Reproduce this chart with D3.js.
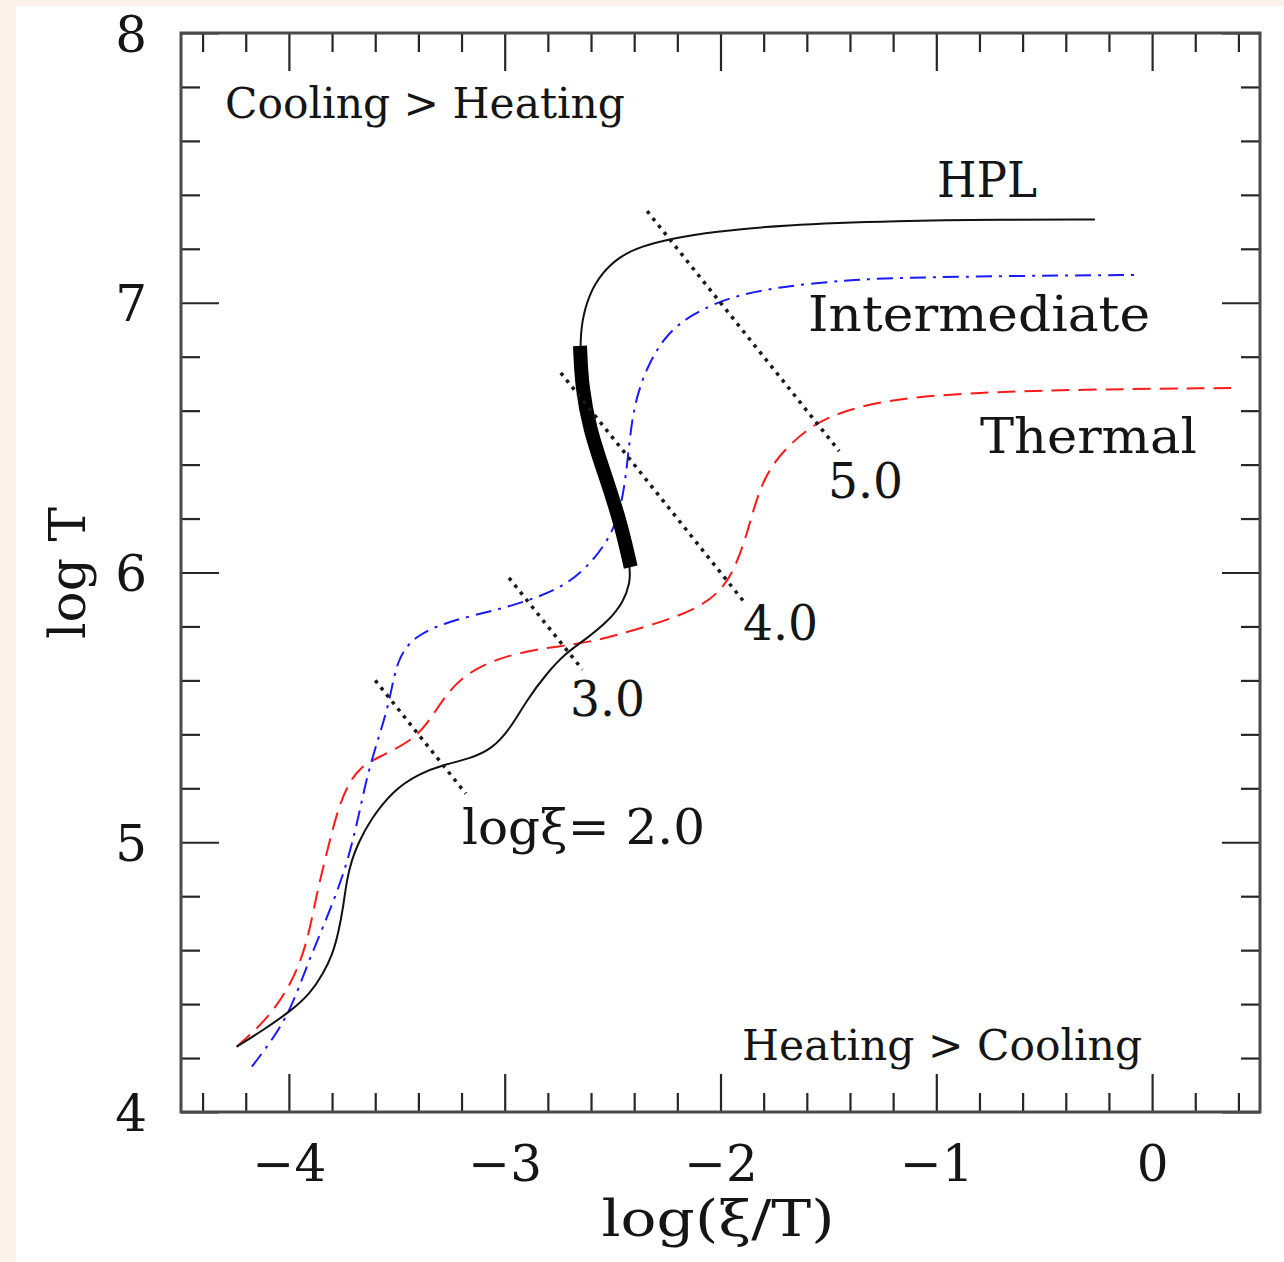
<!DOCTYPE html>
<html>
<head>
<meta charset="utf-8">
<script src="https://cdn.jsdelivr.net/npm/d3@7"></script>
<style>
  html, body { margin: 0; padding: 0; background: #fbf2e9; }
  svg { display: block; }
  text { font-family: "DejaVu Serif", "Liberation Serif", serif; fill: #151515; }
</style>
</head>
<body>
<svg id="chart" width="1284" height="1262"></svg>
<script>
// Stability curves: log T versus log(xi/T) for three ionizing continua
const hplCurve = [
  [-4.242, 4.242], [-4.119, 4.304], [-3.995, 4.372], [-3.900, 4.440], [-3.841, 4.514],
  [-3.800, 4.580], [-3.771, 4.662], [-3.748, 4.761], [-3.732, 4.860], [-3.709, 4.934],
  [-3.679, 4.996], [-3.624, 5.082], [-3.516, 5.194], [-3.392, 5.256], [-3.285, 5.287],
  [-3.161, 5.310], [-3.060, 5.345], [-2.975, 5.420], [-2.898, 5.527], [-2.805, 5.626],
  [-2.720, 5.700], [-2.620, 5.755], [-2.520, 5.820], [-2.450, 5.890], [-2.420, 5.960],
  [-2.416, 6.020], [-2.466, 6.195], [-2.543, 6.380], [-2.605, 6.528], [-2.643, 6.689],
  [-2.651, 6.840], [-2.643, 6.930], [-2.610, 7.030], [-2.550, 7.110], [-2.470, 7.170],
  [-2.373, 7.208], [-2.219, 7.240], [-2.033, 7.263], [-1.724, 7.288], [-1.168, 7.304],
  [-0.700, 7.308], [-0.265, 7.309]
];
// Thermally unstable branch of the HPL curve (range in log T)
const hplUnstable = [6.02, 6.84];

const intermediateCurve = [
  [-4.172, 4.168], [-4.088, 4.255], [-3.995, 4.372], [-3.918, 4.539], [-3.841, 4.687],
  [-3.748, 4.873], [-3.686, 5.058], [-3.640, 5.243], [-3.578, 5.404], [-3.532, 5.527],
  [-3.500, 5.676], [-3.424, 5.762], [-3.269, 5.818], [-3.037, 5.861], [-2.883, 5.898],
  [-2.728, 5.947], [-2.605, 6.028], [-2.497, 6.145], [-2.450, 6.281], [-2.427, 6.442],
  [-2.404, 6.615], [-2.342, 6.763], [-2.249, 6.887], [-2.126, 6.961], [-1.956, 7.022],
  [-1.724, 7.060], [-1.415, 7.084], [-1.168, 7.093], [-0.600, 7.100], [-0.056, 7.103]
];

const thermalCurve = [
  [-4.242, 4.242], [-4.103, 4.341], [-3.995, 4.465], [-3.918, 4.613], [-3.871, 4.811],
  [-3.825, 4.959], [-3.779, 5.107], [-3.732, 5.206], [-3.671, 5.280], [-3.578, 5.317],
  [-3.424, 5.379], [-3.346, 5.453], [-3.269, 5.552], [-3.176, 5.626], [-3.037, 5.681],
  [-2.867, 5.713], [-2.713, 5.731], [-2.589, 5.744], [-2.342, 5.799], [-2.110, 5.861],
  [-1.971, 5.947], [-1.894, 6.096], [-1.848, 6.232], [-1.802, 6.343], [-1.724, 6.442],
  [-1.570, 6.553], [-1.415, 6.602], [-1.168, 6.652], [-0.543, 6.677], [0.366, 6.684]
];

// Lines of constant log(xi): log T = log(xi) - log(xi/T)
const xiLevels = [2, 3, 4, 5];
const xiSpans = [[-3.60, -3.18], [-2.98, -2.64], [-2.74, -1.89], [-2.34, -1.45]];
const xiLabels = ["log\u03BE= 2.0", "3.0", "4.0", "5.0"];
const xiLabelAnchors = [[-3.198, 4.994], [-2.697, 5.468], [-1.896, 5.750], [-1.502, 6.276]];

// Curve names and region notes, anchored in data units (baseline start)
const curveNames = ["HPL", "Intermediate", "Thermal"];
const curveNameAnchors = [[-0.997, 7.392], [-1.594, 6.895], [-0.798, 6.443]];
const regionNotes = ["Cooling > Heating", "Heating > Cooling"];
const regionAnchors = [[-4.296, 7.685], [-1.900, 4.193]];

const xTickValues = [-4, -3, -2, -1, 0];
const yTickValues = [4, 5, 6, 7, 8];
const xTitle = "log(\u03BE/T)";
const yTitle = "log T";

// ---- layout ----
const svg = d3.select("#chart");
const W = 1284, H = 1262;
const plot = { left: 181, right: 1260, top: 33, bottom: 1112 };

svg.append("rect").attr("x", 16).attr("y", 6).attr("width", W - 16).attr("height", H - 6).attr("fill", "#ffffff");

const x = d3.scaleLinear().domain([-4.5, 0.5]).range([plot.left, plot.right]);
const y = d3.scaleLinear().domain([4, 8]).range([plot.bottom, plot.top]);

const majorLen = 38, minorLen = 19;
const fmt = d3.format("d");
const xMinor = d3.range(-4.4, 0.45, 0.2).map(v => +v.toFixed(1)).filter(v => Math.abs(v - Math.round(v)) > 1e-6);
const yMinor = d3.range(4.2, 7.9, 0.2).map(v => +v.toFixed(1)).filter(v => Math.abs(v - Math.round(v)) > 1e-6);

function styleAxis(g) {
  g.select(".domain").remove();
  g.selectAll(".tick line").attr("stroke", "#262626").attr("stroke-width", 2.2);
  g.selectAll(".tick text").attr("fill", "#151515")
    .style("font-family", '"DejaVu Serif", serif').style("font-size", "50px");
}

// bottom
svg.append("g").attr("transform", `translate(0,${plot.bottom})`)
  .call(d3.axisBottom(x).tickValues(xTickValues).tickSize(-majorLen).tickPadding(33.5).tickFormat(fmt))
  .call(styleAxis);
svg.append("g").attr("transform", `translate(0,${plot.bottom})`)
  .call(d3.axisBottom(x).tickValues(xMinor).tickSize(-minorLen).tickFormat(""))
  .call(styleAxis);
// top
svg.append("g").attr("transform", `translate(0,${plot.top})`)
  .call(d3.axisTop(x).tickValues(xTickValues).tickSize(-majorLen).tickFormat(""))
  .call(styleAxis);
svg.append("g").attr("transform", `translate(0,${plot.top})`)
  .call(d3.axisTop(x).tickValues(xMinor).tickSize(-minorLen).tickFormat(""))
  .call(styleAxis);
// left
const leftAxis = svg.append("g").attr("transform", `translate(${plot.left},0)`)
  .call(d3.axisLeft(y).tickValues(yTickValues).tickSize(-majorLen).tickPadding(34).tickFormat(fmt))
  .call(styleAxis);
leftAxis.selectAll(".tick text").attr("dy", "0.36em");
svg.append("g").attr("transform", `translate(${plot.left},0)`)
  .call(d3.axisLeft(y).tickValues(yMinor).tickSize(-minorLen).tickFormat(""))
  .call(styleAxis);
// right
svg.append("g").attr("transform", `translate(${plot.right},0)`)
  .call(d3.axisRight(y).tickValues(yTickValues).tickSize(-majorLen).tickFormat(""))
  .call(styleAxis);
svg.append("g").attr("transform", `translate(${plot.right},0)`)
  .call(d3.axisRight(y).tickValues(yMinor).tickSize(-minorLen).tickFormat(""))
  .call(styleAxis);

// frame
svg.append("rect")
  .attr("x", plot.left).attr("y", plot.top)
  .attr("width", plot.right - plot.left).attr("height", plot.bottom - plot.top)
  .attr("fill", "none").attr("stroke", "#4a4a4a").attr("stroke-width", 3);

// ---- curves ----
const line = d3.line().x(d => x(d[0])).y(d => y(d[1])).curve(d3.curveBasis);
const curves = svg.append("g").attr("fill", "none");

curves.append("path").datum(thermalCurve).attr("d", line)
  .attr("stroke", "#ff1a1a").attr("stroke-width", 2).attr("stroke-dasharray", "18,9");
curves.append("path").datum(intermediateCurve).attr("d", line)
  .attr("stroke", "#1a1aff").attr("stroke-width", 2).attr("stroke-dasharray", "16,7,3,7");
curves.append("path").datum(hplCurve).attr("d", line)
  .attr("stroke", "#111").attr("stroke-width", 2);
curves.append("path")
  .datum(hplCurve.filter(p => p[1] >= hplUnstable[0] && p[1] <= hplUnstable[1]))
  .attr("d", line)
  .attr("stroke", "#000").attr("stroke-width", 14).attr("stroke-linecap", "butt");

// constant-xi lines
const xiLine = d3.line().x(d => x(d[0])).y(d => y(d[1]));
xiLevels.forEach((lv, i) => {
  const [a, b] = xiSpans[i];
  curves.append("path").datum([[a, lv - a], [b, lv - b]]).attr("d", xiLine)
    .attr("stroke", "#1a1a1a").attr("stroke-width", 3.5).attr("stroke-dasharray", "3.5,5.5");
});

// ---- labels ----
const labels = svg.append("g");
const xiLen = [243, 75, 75, 75];
xiLabels.forEach((t, i) => {
  labels.append("text").attr("x", x(xiLabelAnchors[i][0])).attr("y", y(xiLabelAnchors[i][1]))
    .attr("font-size", 48).attr("textLength", xiLen[i]).attr("lengthAdjust", "spacingAndGlyphs").text(t);
});
const nameLen = [100, 342, 217];
curveNames.forEach((t, i) => {
  labels.append("text").attr("x", x(curveNameAnchors[i][0])).attr("y", y(curveNameAnchors[i][1]))
    .attr("font-size", 48).attr("textLength", nameLen[i]).attr("lengthAdjust", "spacingAndGlyphs").text(t);
});
regionNotes.forEach((t, i) => {
  labels.append("text").attr("x", x(regionAnchors[i][0])).attr("y", y(regionAnchors[i][1]))
    .attr("font-size", 43).attr("textLength", 400).attr("lengthAdjust", "spacingAndGlyphs").text(t);
});

// axis titles
svg.append("text").attr("x", 718).attr("y", 1236).attr("text-anchor", "middle")
  .attr("font-size", 50).attr("textLength", 233).attr("lengthAdjust", "spacingAndGlyphs").text(xTitle);
svg.append("text").attr("transform", "translate(85,573) rotate(-90)").attr("text-anchor", "middle")
  .attr("font-size", 50).attr("textLength", 132).attr("lengthAdjust", "spacingAndGlyphs").text(yTitle);
</script>
</body>
</html>
